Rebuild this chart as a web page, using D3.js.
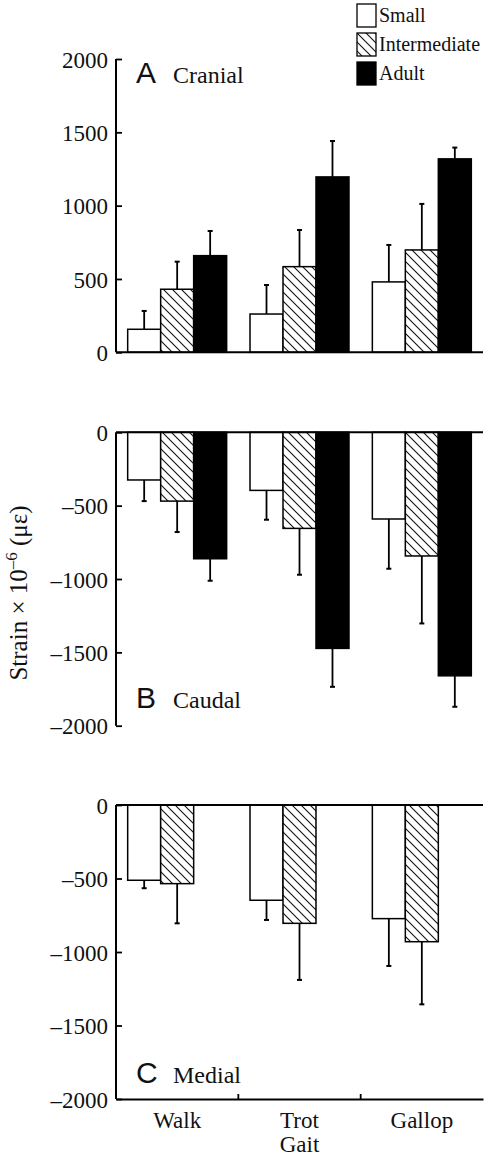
<!DOCTYPE html>
<html>
<head>
<meta charset="utf-8">
<script src="https://cdn.jsdelivr.net/npm/d3@7"></script>
<style>
  body { margin: 0; background: #fff; }
  svg text { font-family: "Liberation Serif", "Times New Roman", serif; fill: #111; }
  .panel-letter { font-family: "Liberation Sans", Arial, sans-serif !important; }
</style>
</head>
<body>
<svg id="chart" width="485" height="1159"></svg>
<script>
// Gaits and size classes
var gaits = ['Walk', 'Trot', 'Gallop'];
var sizes = ['Small', 'Intermediate', 'Adult'];

// Mean strain per gait (rows) and size class (columns), microstrain
var cranialMean = [[157, 430, 659], [261, 584, 1196], [480, 698, 1319]];
var cranialErr  = [[125, 188, 168], [198, 250, 245], [252, 314, 77]];

var caudalMean = [[-325, -469, -862], [-396, -655, -1473], [-591, -843, -1660]];
var caudalErr  = [[144, 211, 150], [200, 316, 262], [339, 460, 211]];

// no adult data for the medial gauge
var medialMean = [[-512, -535, null], [-648, -805, null], [-773, -930, null]];
var medialErr  = [[54, 270, null], [134, 385, null], [322, 426, null]];

var posTicks = [0, 500, 1000, 1500, 2000];
var negTicks = [0, -500, -1000, -1500, -2000];

var svg = d3.select('#chart');
var left = 116, right = 483;

// hatch pattern for the intermediate class
var defs = svg.append('defs');
var pat = defs.append('pattern')
  .attr('id', 'hatch')
  .attr('patternUnits', 'userSpaceOnUse')
  .attr('width', 9)
  .attr('height', 9);
pat.append('rect').attr('width', 9).attr('height', 9).attr('fill', '#fff');
pat.append('path')
  .attr('d', 'M-2,-2 L11,11 M-2,7 L2,11 M7,-2 L11,2')
  .attr('stroke', '#111')
  .attr('stroke-width', 1.1);

var fills = {Small: '#fff', Intermediate: 'url(#hatch)', Adult: '#000'};

var x0 = d3.scaleBand().domain(gaits).range([left, right]).padding(0);
var x1 = d3.scaleBand().domain(sizes).range([0, x0.bandwidth()])
  .paddingInner(0).paddingOuter(0.354);

// Draws one panel
function panel(cfg) {
  var y = d3.scaleLinear().domain(cfg.domain).range(cfg.range);
  var g = svg.append('g');

  // bars
  gaits.forEach(function(gait, gi) {
    sizes.forEach(function(s, si) {
      var v = cfg.mean[gi][si];
      if (v == null) return;
      var e = cfg.err[gi][si];
      var bx = x0(gait) + x1(s);
      var cx = bx + x1.bandwidth() / 2;
      var end = v + (v < 0 ? -e : e);

      // error bar (one sided, away from zero)
      g.append('line')
        .attr('x1', cx).attr('x2', cx)
        .attr('y1', y(v)).attr('y2', y(end))
        .attr('stroke', '#000').attr('stroke-width', 1.8);
      g.append('line')
        .attr('x1', cx - 2.5).attr('x2', cx + 2.5)
        .attr('y1', y(end)).attr('y2', y(end))
        .attr('stroke', '#000').attr('stroke-width', 2);

      g.append('rect')
        .attr('x', bx)
        .attr('width', x1.bandwidth())
        .attr('y', Math.min(y(0), y(v)))
        .attr('height', Math.abs(y(v) - y(0)))
        .attr('fill', fills[s])
        .attr('stroke', '#000')
        .attr('stroke-width', 1.5);
    });
  });

  // y axis with inward ticks
  var yAxis = d3.axisRight(y)
    .tickValues(cfg.ticks)
    .tickSize(6)
    .tickFormat(function(d) { return d < 0 ? '\u2013' + Math.abs(d) : d; });
  var ya = g.append('g').attr('transform', 'translate(' + left + ',0)').call(yAxis);
  ya.select('.domain').attr('stroke-width', 2).attr('d', 'M0,' + cfg.range[0] + 'V' + cfg.range[1]);
  ya.selectAll('.tick line').attr('stroke-width', 1.8);
  ya.selectAll('.tick text')
    .attr('x', -8)
    .attr('dy', '0.35em')
    .attr('text-anchor', 'end')
    .style('font-size', '23px');
  ya.attr('font-family', null).attr('font-size', null);

  // zero line
  g.append('line')
    .attr('x1', left).attr('x2', right)
    .attr('y1', y(0)).attr('y2', y(0))
    .attr('stroke', '#000').attr('stroke-width', 2);

  // panel label
  var lab = g.append('text').attr('y', cfg.labelY);
  lab.append('tspan').attr('class', 'panel-letter').attr('x', 136)
    .style('font-size', '30px').text(cfg.letter);
  lab.append('tspan').attr('x', 173).style('font-size', '24px').text(cfg.name);

  return {g: g, y: y};
}

panel({domain: [0, 2000], range: [352.3, 59], ticks: posTicks,
  mean: cranialMean, err: cranialErr, letter: 'A', name: 'Cranial', labelY: 83});
panel({domain: [0, -2000], range: [432.3, 725.7], ticks: negTicks,
  mean: caudalMean, err: caudalErr, letter: 'B', name: 'Caudal', labelY: 708});
var pc = panel({domain: [0, -2000], range: [805, 1099], ticks: negTicks,
  mean: medialMean, err: medialErr, letter: 'C', name: 'Medial', labelY: 1083});

// bottom gait axis on panel C
var xAxis = d3.axisBottom(x0).tickSize(0).tickPadding(13);
var xa = svg.append('g').attr('transform', 'translate(0,' + pc.y(-2000) + ')').call(xAxis);
xa.select('.domain').attr('stroke-width', 2);
xa.selectAll('.tick text').style('font-size', '23px').attr('dy', '0.71em');
xa.attr('font-family', null).attr('font-size', null);
// separators between gaits
svg.selectAll('.sep')
  .data(gaits.slice(1))
  .enter().append('line')
  .attr('x1', function(d) { return x0(d); })
  .attr('x2', function(d) { return x0(d); })
  .attr('y1', pc.y(-2000)).attr('y2', pc.y(-2000) - 5)
  .attr('stroke', '#000').attr('stroke-width', 1.8);

svg.append('text')
  .attr('x', (left + right) / 2)
  .attr('y', 1152)
  .attr('text-anchor', 'middle')
  .style('font-size', '23px')
  .text('Gait');

// y title
var yt = svg.append('text')
  .attr('transform', 'translate(27,593) rotate(-90)')
  .attr('text-anchor', 'middle')
  .style('font-size', '25px');
yt.append('tspan').text('Strain \u00d7 10');
yt.append('tspan').attr('dy', -10).style('font-size', '17px').text('\u20136');
yt.append('tspan').attr('dy', 10).text(' (\u03bc\u03b5)');

// legend
var leg = svg.append('g').selectAll('g')
  .data(sizes)
  .enter().append('g')
  .attr('transform', function(d, i) { return 'translate(357,' + (4 + i * 29) + ')'; });
leg.append('rect')
  .attr('width', 19).attr('height', 23)
  .attr('fill', function(d) { return fills[d]; })
  .attr('stroke', '#000').attr('stroke-width', 1.3);
leg.append('text')
  .attr('x', 22).attr('y', 18)
  .style('font-size', '20px')
  .text(function(d) { return d; });
</script>
</body>
</html>
